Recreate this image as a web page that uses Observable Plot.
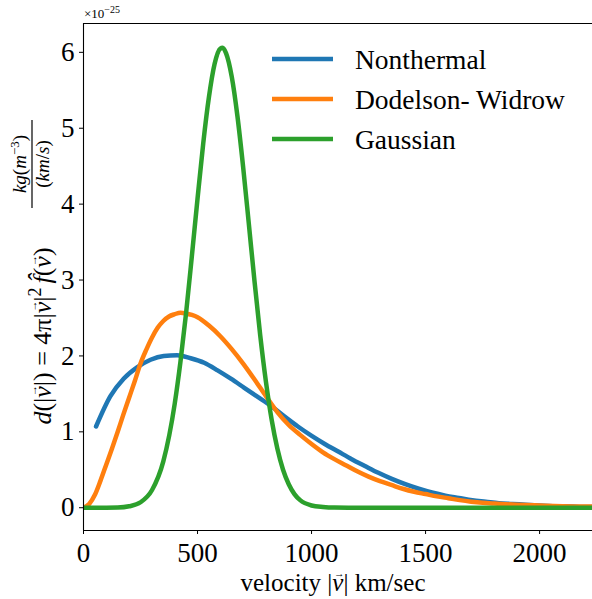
<!DOCTYPE html>
<html>
<head>
<meta charset="utf-8">
<script src="https://cdn.jsdelivr.net/npm/d3@7"></script>
<script src="https://cdn.jsdelivr.net/npm/@observablehq/plot@0.6"></script>
<style>
  html, body { margin: 0; padding: 0; background: #fff; overflow: hidden; }
  #chart { position: relative; width: 592px; height: 599px; }
</style>
</head>
<body>
<div id="chart"></div>
<script>
// ---- Data (units of 1e-25) ----
const seriesNames = ["Nonthermal", "Dodelson- Widrow", "Gaussian"];
const seriesColors = ["#1f77b4", "#ff7f0e", "#2ca02c"];

const nonthermalV = [55, 118, 176, 235, 294, 352, 411, 470, 529, 588, 646, 705, 764, 823, 882, 940, 999, 1058, 1117, 1176, 1234, 1293, 1352, 1411, 1470, 1528, 1587, 1646, 1705, 1764, 1822, 1881, 1940, 1999, 2058, 2117, 2175, 2232];
const nonthermalD = [1.07, 1.47, 1.70, 1.85, 1.95, 2.00, 2.01, 1.97, 1.91, 1.81, 1.70, 1.58, 1.46, 1.34, 1.20, 1.07, 0.95, 0.84, 0.74, 0.64, 0.55, 0.46, 0.38, 0.31, 0.25, 0.20, 0.16, 0.13, 0.10, 0.08, 0.06, 0.05, 0.04, 0.03, 0.02, 0.02, 0.01, 0.01];

const dwV = [0, 25, 50, 75, 100, 125, 150, 175, 200, 225, 250, 275, 300, 325, 350, 375, 400, 425, 450, 475, 500, 550, 600, 650, 700, 750, 800, 850, 900, 950, 1000, 1050, 1100, 1150, 1200, 1250, 1300, 1350, 1400, 1450, 1500, 1550, 1600, 1650, 1700, 1750, 1800, 1900, 2000, 2100, 2232];
const dwD = [0.0, 0.05, 0.17, 0.36, 0.57, 0.78, 1.00, 1.23, 1.45, 1.67, 1.90, 2.08, 2.24, 2.37, 2.46, 2.52, 2.55, 2.57, 2.56, 2.54, 2.51, 2.40, 2.26, 2.09, 1.90, 1.69, 1.47, 1.26, 1.09, 0.96, 0.84, 0.73, 0.64, 0.56, 0.48, 0.41, 0.35, 0.30, 0.25, 0.21, 0.18, 0.15, 0.125, 0.10, 0.08, 0.065, 0.055, 0.04, 0.03, 0.02, 0.015];

const gaussV = [0, 100, 150, 200, 250, 300, 350, 400, 425, 450, 475, 500, 525, 550, 575, 600, 610, 625, 650, 675, 700, 725, 750, 775, 800, 825, 850, 875, 900, 925, 950, 1000, 1050, 1100, 1200, 1500, 2000, 2232];
const gaussD = [0, 0, 0.002, 0.019, 0.072, 0.23, 0.61, 1.37, 1.92, 2.57, 3.31, 4.07, 4.80, 5.41, 5.85, 6.05, 6.06, 5.99, 5.68, 5.16, 4.49, 3.74, 2.98, 2.27, 1.66, 1.16, 0.78, 0.50, 0.31, 0.18, 0.10, 0.03, 0.01, 0.002, 0, 0, 0, 0];

const xTicks = [0, 500, 1000, 1500, 2000];
const yTicks = [0, 1, 2, 3, 4, 5, 6];
const xDomain = [0, 2232];
const yDomain = [-0.30, 6.38];

function toRows(vs, ds, name) { return vs.map((v, j) => ({series: name, v, d: ds[j]})); }
const ntRows = toRows(nonthermalV, nonthermalD, seriesNames[0]);
const dwRows = toRows(dwV, dwD, seriesNames[1]);
const gRows = toRows(gaussV, gaussD, seriesNames[2]);

const FONT = "'Liberation Serif', 'DejaVu Serif', serif";
const LW = 4.5;

const plot = Plot.plot({
  width: 592,
  height: 599,
  marginLeft: 83,
  marginRight: 0,
  marginTop: 23,
  marginBottom: 69,
  style: {fontFamily: FONT, fontSize: "27px", color: "#000", background: "#fff", overflow: "visible"},
  x: {domain: xDomain, label: null},
  y: {domain: yDomain, label: null},
  color: {domain: seriesNames, range: seriesColors},
  marks: [
    Plot.line(ntRows, {x: "v", y: "d", stroke: "series", strokeWidth: LW, clip: true, curve: "monotone-x"}),
    Plot.line(dwRows, {x: "v", y: "d", stroke: "series", strokeWidth: LW, clip: true, curve: "monotone-x"}),
    Plot.line(gRows, {x: "v", y: "d", stroke: "series", strokeWidth: LW, clip: true, curve: "monotone-x"}),
    Plot.ruleX([xDomain[0]], {stroke: "#000", strokeWidth: 1.1}),
    Plot.ruleY([yDomain[0]], {stroke: "#000", strokeWidth: 1.1}),
    Plot.ruleY([yDomain[1]], {stroke: "#000", strokeWidth: 1.1}),
    Plot.axisX({ticks: xTicks, tickSize: 4, tickPadding: 8, fontSize: 27, tickFormat: d => String(d), label: null}),
    Plot.axisY({ticks: yTicks, tickSize: 4, tickPadding: 5, fontSize: 27, tickFormat: d => String(d), label: null})
  ]
});

document.getElementById("chart").appendChild(plot);

const svg = d3.select(plot);

// helper: italic v with a small arrow above it (arrow drawn first, then v shifted under it)
function vec(textSel, size) {
  const vw = size * 0.45;        // approx advance of italic v
  const af = size * 0.42;        // arrow font size
  const aw = af * 1.0;           // approx advance of arrow
  textSel.append("tspan").attr("font-size", af).attr("dx", (vw - aw) / 2 + size * 0.05).attr("dy", -size * 0.55).text("→");
  textSel.append("tspan").attr("font-style", "italic").attr("dx", -(vw + aw) / 2 - size * 0.05).attr("dy", size * 0.55).text("v");
}

// Multiplier annotation
const mult = svg.append("text")
  .attr("x", 84).attr("y", 18).attr("text-anchor", "start")
  .attr("font-family", FONT).attr("font-size", 13).attr("fill", "#000");
mult.append("tspan").text("×10");
mult.append("tspan").attr("dy", -5).attr("font-size", 10).text("−25");

// x-axis label
const xl = svg.append("text")
  .attr("x", 333).attr("y", 591)
  .attr("text-anchor", "middle")
  .attr("font-family", FONT).attr("font-size", 25).attr("fill", "#000");
xl.append("tspan").text("velocity |");
vec(xl, 25);
xl.append("tspan").text("| km/sec");

// y-axis label (rotated)
const yl = svg.append("text")
  .attr("transform", "translate(51,336) rotate(-90)")
  .attr("text-anchor", "middle")
  .attr("font-family", FONT).attr("font-size", 26).attr("fill", "#000");
yl.append("tspan").attr("font-style", "italic").text("d");
yl.append("tspan").text("(|");
vec(yl, 26);
yl.append("tspan").text("|) = 4π|");
vec(yl, 26);
yl.append("tspan").text("|");
yl.append("tspan").attr("dy", -10).attr("font-size", 18).text("2");
yl.append("tspan").attr("dy", 10).attr("dx", 4).attr("font-style", "italic").text("f\u0302");
yl.append("tspan").text("(");
vec(yl, 26);
yl.append("tspan").text(")");

// unit fraction (rotated)
const fr = svg.append("g").attr("transform", "translate(32,164) rotate(-90)");
const num = fr.append("text").attr("x", 0).attr("y", -6)
  .attr("text-anchor", "middle").attr("font-family", FONT).attr("font-size", 19).attr("fill", "#000");
num.append("tspan").attr("font-style", "italic").text("kg");
num.append("tspan").text("(");
num.append("tspan").attr("font-style", "italic").text("m");
num.append("tspan").attr("dy", -7).attr("font-size", 13).text("−3");
num.append("tspan").attr("dy", 7).text(")");
fr.append("line").attr("x1", -44).attr("x2", 44).attr("y1", 0).attr("y2", 0)
  .attr("stroke", "#000").attr("stroke-width", 1.2);
const den = fr.append("text").attr("x", 0).attr("y", 17)
  .attr("text-anchor", "middle").attr("font-family", FONT).attr("font-size", 19).attr("fill", "#000");
den.append("tspan").text("(");
den.append("tspan").attr("font-style", "italic").text("km");
den.append("tspan").text("/");
den.append("tspan").attr("font-style", "italic").text("s");
den.append("tspan").text(")");

// Legend
const legY = [59, 99, 139];
const lg = svg.append("g");
seriesNames.forEach((name, i) => {
  lg.append("line").attr("x1", 272).attr("x2", 333).attr("y1", legY[i]).attr("y2", legY[i])
    .attr("stroke", seriesColors[i]).attr("stroke-width", LW);
  lg.append("text").attr("x", 355).attr("y", legY[i]).attr("dy", "0.35em")
    .attr("text-anchor", "start")
    .attr("font-family", FONT).attr("font-size", 27.5).attr("fill", "#000").text(name);
});
</script>
</body>
</html>
